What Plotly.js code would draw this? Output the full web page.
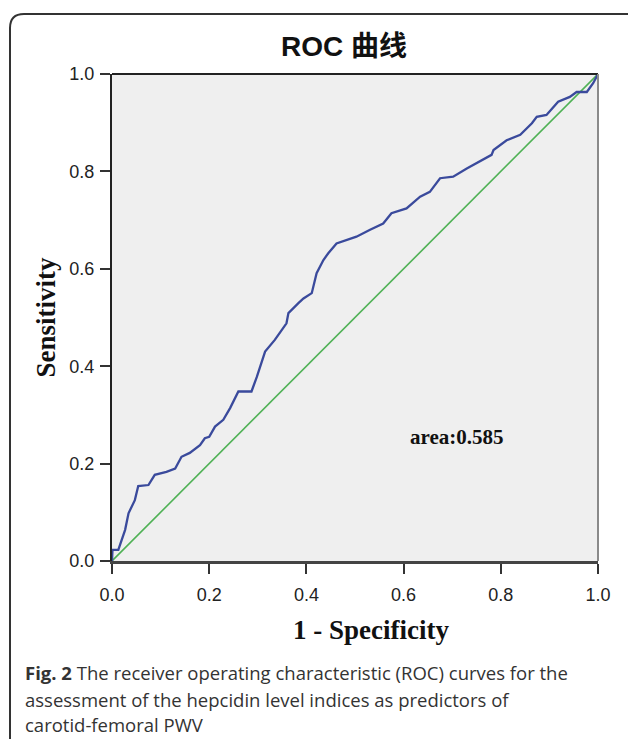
<!DOCTYPE html>
<html>
<head>
<meta charset="utf-8">
<script src="https://cdn.plot.ly/plotly-3.0.1.min.js"></script>
<style>html,body{margin:0;padding:0;background:#fff;}#chart{width:628px;height:739px;}</style>
</head>
<body>
<div id="chart"></div>
<script>
// ROC curve points (1 - specificity, sensitivity)
var fpr = [0, 0.001, 0.013, 0.02, 0.027, 0.034, 0.04, 0.047, 0.054, 0.075, 0.088, 0.112, 0.13, 0.143, 0.16, 0.181, 0.191, 0.2, 0.212, 0.229, 0.243, 0.26, 0.287, 0.298, 0.315, 0.335, 0.359, 0.363, 0.383, 0.394, 0.411, 0.421, 0.435, 0.445, 0.462, 0.483, 0.503, 0.531, 0.558, 0.575, 0.606, 0.634, 0.654, 0.675, 0.702, 0.73, 0.757, 0.781, 0.785, 0.812, 0.84, 0.864, 0.874, 0.894, 0.918, 0.942, 0.956, 0.977, 0.99, 1.0];
var tpr = [0, 0.023, 0.023, 0.043, 0.064, 0.098, 0.109, 0.125, 0.154, 0.156, 0.177, 0.183, 0.19, 0.214, 0.222, 0.238, 0.252, 0.255, 0.276, 0.29, 0.314, 0.348, 0.348, 0.378, 0.43, 0.454, 0.488, 0.509, 0.529, 0.539, 0.55, 0.591, 0.618, 0.632, 0.652, 0.659, 0.666, 0.68, 0.693, 0.714, 0.724, 0.748, 0.758, 0.786, 0.789, 0.806, 0.82, 0.834, 0.844, 0.864, 0.875, 0.899, 0.912, 0.916, 0.943, 0.953, 0.963, 0.963, 0.981, 1.0];
// reference diagonal
var refX = [0, 1];
var refY = [0, 1];
var tickVals = [0, 0.2, 0.4, 0.6, 0.8, 1.0];
var tickText = ["0.0", "0.2", "0.4", "0.6", "0.8", "1.0"];
var areaLabel = "area:0.585";
var chartTitle = "ROC 曲线";
var xTitle = "1 - Specificity";
var yTitle = "Sensitivity";
var captionLines = [
  "<b>Fig. 2</b> The receiver operating characteristic (ROC) curves for the",
  "assessment of the hepcidin level indices as predictors of",
  "carotid-femoral PWV"
];

// layout geometry (pixels)
var W = 628, H = 739, L = 112, R = 30, T = 74, B = 178;
var pw = W - L - R, ph = H - T - B;
function px2x(p){ return (p - L) / pw; }
function py2y(p){ return (H - B - p) / ph; }

var traces = [
  {x: refX, y: refY, mode: 'lines', line: {color: '#4fb155', width: 1.6}, hoverinfo: 'skip', showlegend: false},
  {x: fpr, y: tpr, mode: 'lines', line: {color: '#3a4a9c', width: 2.3}, showlegend: false}
];

var serif = 'Liberation Serif, Times New Roman, serif';
var annots = [
  {x: 0.71, y: 0.255, xref: 'x', yref: 'y', text: '<b>' + areaLabel + '</b>', showarrow: false,
   font: {family: serif, size: 21, color: '#111'}},
  {x: px2x(371), y: py2y(630), xref: 'paper', yref: 'paper', xanchor: 'center', yanchor: 'middle',
   text: '<b>' + xTitle + '</b>', showarrow: false, font: {family: serif, size: 27, color: '#111'}}
];
var capY = [672, 699, 724];
for (var i = 0; i < captionLines.length; i++) {
  annots.push({x: px2x(23), y: py2y(capY[i]), xref: 'paper', yref: 'paper', xanchor: 'left', yanchor: 'middle',
    text: captionLines[i], showarrow: false, align: 'left',
    font: {family: 'Open Sans, sans-serif', size: 18.5, color: '#333'}});
}

// rounded outer frame (open to the right and bottom)
var fx0 = px2x(10), fy0 = py2y(14), r = 14;
var rx = r / pw, ry = r / ph;
var framePath = 'M ' + fx0 + ' ' + py2y(760) + ' L ' + fx0 + ' ' + (fy0 - ry) +
  ' Q ' + fx0 + ' ' + fy0 + ' ' + (fx0 + rx) + ' ' + fy0 + ' L ' + px2x(660) + ' ' + fy0;

var layout = {
  width: W, height: H,
  margin: {l: L, r: R, t: T, b: B},
  paper_bgcolor: '#ffffff',
  plot_bgcolor: '#efefef',
  title: {text: '<b>' + chartTitle + '</b>', x: px2x(344), xref: 'paper', xanchor: 'center',
    y: 1 - 46 / H, yref: 'container', yanchor: 'middle',
    font: {family: 'Liberation Sans, Arial, Noto Sans CJK SC, sans-serif', size: 28, color: '#111'}},
  xaxis: {range: [0, 1], tickvals: tickVals, ticktext: tickText, ticks: 'outside', ticklen: 10, tickwidth: 2,
    tickcolor: '#333', showline: true, linecolor: '#444', linewidth: 3, mirror: false, showgrid: false,
    zeroline: false, fixedrange: true, ticklabelstandoff: 5,
    tickfont: {family: 'Liberation Sans, Arial, sans-serif', size: 18, color: '#222'}},
  yaxis: {range: [0, 1], tickvals: tickVals, ticktext: tickText, ticks: 'outside', ticklen: 10, tickwidth: 2,
    tickcolor: '#333', showline: true, linecolor: '#222', linewidth: 2, mirror: false, showgrid: false,
    zeroline: false, fixedrange: true, ticklabelstandoff: 2,
    tickfont: {family: 'Liberation Sans, Arial, sans-serif', size: 18, color: '#222'},
    title: {text: '<b>' + yTitle + '</b>', standoff: 6,
      font: {family: serif, size: 27, color: '#111'}}},
  shapes: [
    {type: 'line', xref: 'paper', yref: 'paper', x0: 0, x1: 1, y0: 1, y1: 1, line: {color: '#222', width: 2}},
    {type: 'line', xref: 'paper', yref: 'paper', x0: 1, x1: 1, y0: 0, y1: 1, line: {color: '#8a8a8a', width: 2}},
    {type: 'path', xref: 'paper', yref: 'paper', path: framePath, line: {color: '#333', width: 2}}
  ],
  annotations: annots,
  showlegend: false
};

Plotly.newPlot('chart', traces, layout, {displayModeBar: false, staticPlot: true});
</script>
</body>
</html>
